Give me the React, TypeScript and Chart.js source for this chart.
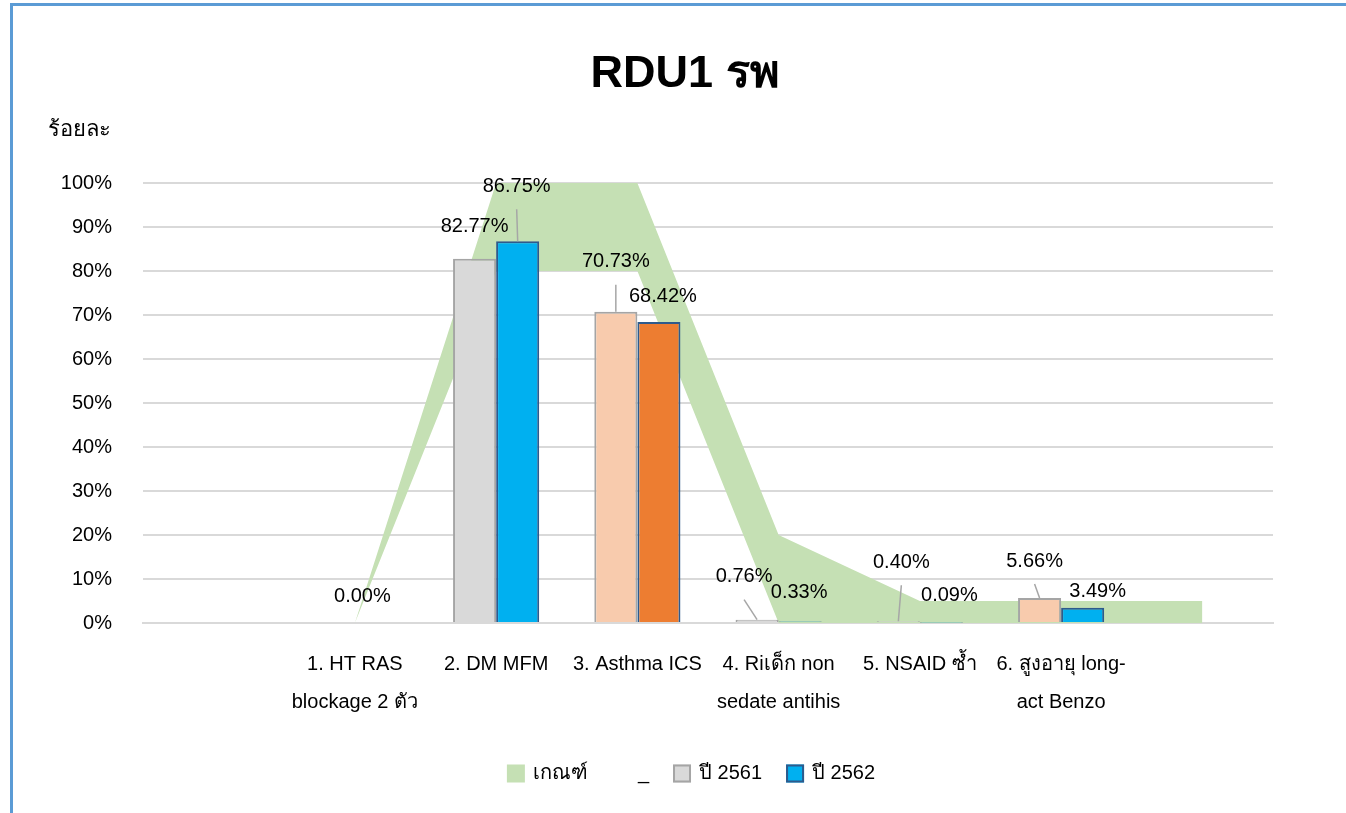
import React, { useEffect, useRef } from 'react';
import { Chart, registerables } from 'chart.js';

Chart.register(...registerables);

// ---------- data ----------
const categories: (string | string[])[] = [
  '',
  ['1. HT RAS', 'blockage 2 ตัว'],
  '2. DM MFM',
  '3. Asthma ICS',
  ['4. Riเด็ก non', 'sedate antihis'],
  '5. NSAID ซ้ำ',
  ['6. สูงอายุ long-', 'act Benzo'],
  '',
];
const criteriaLower = [null, 0, 80, 80, 0, 0, 0, 0];
const criteriaUpper = [null, 0, 100, 100, 20, 5, 5, 5];
const year2561 = [null, null, 82.77, 70.73, 0.76, 0.4, 5.66, null];
const year2562 = [null, 0, 86.75, 68.42, 0.33, 0.09, 3.49, null];
const yTickValues = [0, 10, 20, 30, 40, 50, 60, 70, 80, 90, 100];

const TITLE = 'RDU1 รพ';
const Y_TITLE = 'ร้อยละ';
const LABEL_CRITERIA = 'เกณฑ์';
const LABEL_LOWER = '_';
const LABEL_2561 = 'ปี 2561';
const LABEL_2562 = 'ปี 2562';

// ---------- styles ----------
const FONT = '"Liberation Sans", Arial, sans-serif';
const GREEN = '#C5E0B4';
const GRAY = '#D9D9D9';
const GRAY_B = '#A5A5A5';
const PEACH = '#F8CBAD';
const BLUE = '#00B0F0';
const ORANGE = '#ED7D31';
const DARK_B = '#2E5A8C';
const GRID = '#D9D9D9';

const colors2561 = [GRAY, GRAY, GRAY, PEACH, GRAY, GRAY, PEACH, GRAY];
const colors2562 = [BLUE, BLUE, BLUE, ORANGE, BLUE, BLUE, BLUE, BLUE];

// label placement (offset from bar top centre), leader flag
const labelPlace: Record<number, Record<number, [number, number, boolean]>> = {
  2: { 2: [0, -32, false], 3: [0, -50, true], 4: [-13, -43, true], 5: [3, -59, true], 6: [-5, -37, true] },
  3: { 1: [-14, -27, false], 2: [-1, -55, true], 3: [4, -25, false], 4: [-1, -29, false], 5: [8, -27, false], 6: [15, -16, false] },
};

const decorPlugin = {
  id: 'decor',
  afterDatasetsDraw(chart: any) {
    const ctx = chart.ctx;
    ctx.save();
    ctx.font = `20px ${FONT}`;
    ctx.textAlign = 'center';
    ctx.textBaseline = 'middle';
    [2, 3].forEach((di) => {
      const meta = chart.getDatasetMeta(di);
      const ds = chart.data.datasets[di];
      meta.data.forEach((el: any, i: number) => {
        const v = ds.data[i];
        if (v === null || v === undefined) return;
        const place = labelPlace[di][i] || [0, -20, false];
        const lx = el.x + place[0];
        const ly = el.y + place[1];
        if (place[2]) {
          ctx.strokeStyle = '#A6A6A6';
          ctx.lineWidth = 1.5;
          ctx.beginPath();
          ctx.moveTo(lx, ly + 23);
          ctx.lineTo(el.x, el.y);
          ctx.stroke();
        }
        ctx.fillStyle = '#000';
        ctx.fillText(v.toFixed(2) + '%', lx, ly);
      });
    });
    ctx.restore();
  },
  afterDraw(chart: any) {
    const ctx = chart.ctx;
    ctx.save();
    // title
    ctx.fillStyle = '#000';
    ctx.font = `bold 45px ${FONT}`;
    ctx.textAlign = 'center';
    ctx.textBaseline = 'alphabetic';
    ctx.fillText(TITLE, 685, 87);
    // y-axis title
    ctx.font = `22px ${FONT}`;
    ctx.textAlign = 'left';
    ctx.fillText(Y_TITLE, 48, 136);
    // legend
    const items = chart.data.datasets.map((ds: any) => {
      const isBar = ds.type === 'bar';
      return {
        text: ds.label,
        fill: isBar ? ds.backgroundColor[0] : ds.backgroundColor,
        stroke: isBar ? ds.borderColor : null,
      };
    });
    const box = 18;
    const gap = 8;
    const spacing = 24;
    ctx.font = `20px ${FONT}`;
    const widths = items.map((it: any) => box + gap + ctx.measureText(it.text).width);
    const total = widths.reduce((a: number, b: number) => a + b, 0) + spacing * (items.length - 1);
    let x = 691 - total / 2;
    const cy = 773.5;
    ctx.textBaseline = 'middle';
    items.forEach((it: any, k: number) => {
      if (it.fill && it.fill !== 'transparent') {
        ctx.fillStyle = it.fill;
        ctx.fillRect(x, cy - box / 2, box, box);
        if (it.stroke) {
          ctx.strokeStyle = it.stroke;
          ctx.lineWidth = 2;
          ctx.strokeRect(x + 1, cy - box / 2 + 1, box - 2, box - 2);
        }
      }
      ctx.fillStyle = '#000';
      ctx.fillText(it.text, x + box + gap, cy);
      x += widths[k] + spacing;
    });
    ctx.restore();
  },
};

export default function App() {
  const canvasRef = useRef<HTMLCanvasElement | null>(null);

  useEffect(() => {
    const canvas = canvasRef.current;
    if (!canvas) return;
    const chart = new Chart(canvas, {
      type: 'bar',
      data: {
        labels: categories,
        datasets: [
          {
            type: 'line',
            label: LABEL_CRITERIA,
            data: criteriaUpper,
            backgroundColor: GREEN,
            borderColor: GREEN,
            borderWidth: 0,
            pointRadius: 0,
            tension: 0,
            fill: 1,
            order: 2,
          },
          {
            type: 'line',
            label: LABEL_LOWER,
            data: criteriaLower,
            backgroundColor: 'transparent',
            borderColor: 'transparent',
            borderWidth: 0,
            pointRadius: 0,
            tension: 0,
            fill: false,
            order: 3,
          },
          {
            type: 'bar',
            label: LABEL_2561,
            data: year2561,
            backgroundColor: colors2561,
            borderColor: GRAY_B,
            borderWidth: (c: any) => (c.raw === 0 ? 0 : 2),
            borderSkipped: 'bottom',
            categoryPercentage: 0.61,
            barPercentage: 1,
            order: 0,
          },
          {
            type: 'bar',
            label: LABEL_2562,
            data: year2562,
            backgroundColor: colors2562,
            borderColor: DARK_B,
            borderWidth: (c: any) => (c.raw === 0 ? 0 : 2),
            borderSkipped: 'bottom',
            categoryPercentage: 0.61,
            barPercentage: 1,
            order: 1,
          },
        ] as any,
      },
      options: {
        responsive: false,
        animation: false,
        devicePixelRatio: 1,
        layout: { padding: { top: 183, right: 73, left: 0, bottom: 0 } },
        plugins: {
          legend: { display: false },
          title: { display: false },
          tooltip: { enabled: false },
        },
        scales: {
          x: {
            grid: { display: false, drawTicks: false },
            border: { display: true, color: GRID, width: 2 },
            ticks: {
              autoSkip: false,
              maxRotation: 0,
              minRotation: 0,
              padding: 22,
              color: '#000',
              font: { family: FONT, size: 20, lineHeight: 1.9 },
            },
            afterFit: (s: any) => {
              s.height = 190;
            },
          },
          y: {
            min: 0,
            max: 100,
            afterBuildTicks: (s: any) => {
              s.ticks = yTickValues.map((v) => ({ value: v }));
            },
            grid: { color: GRID, lineWidth: 2, drawTicks: false },
            border: { display: false },
            ticks: {
              padding: 31,
              color: '#000',
              font: { family: FONT, size: 20 },
              callback: (v: any) => v + '%',
            },
            afterFit: (s: any) => {
              s.width = 143;
            },
          },
        },
      },
      plugins: [decorPlugin],
    });
    return () => chart.destroy();
  }, []);

  return (
    <div style={{ position: 'absolute', left: 0, top: 0, width: 1346, height: 813, overflow: 'hidden', background: '#fff' }}>
      <div
        style={{
          position: 'absolute',
          left: 10,
          top: 3,
          width: 1500,
          height: 1000,
          borderLeft: '3px solid #5B9BD5',
          borderTop: '3px solid #5B9BD5',
        }}
      />
      <canvas ref={canvasRef} width={1346} height={813} style={{ position: 'absolute', left: 0, top: 0 }} />
    </div>
  );
}
